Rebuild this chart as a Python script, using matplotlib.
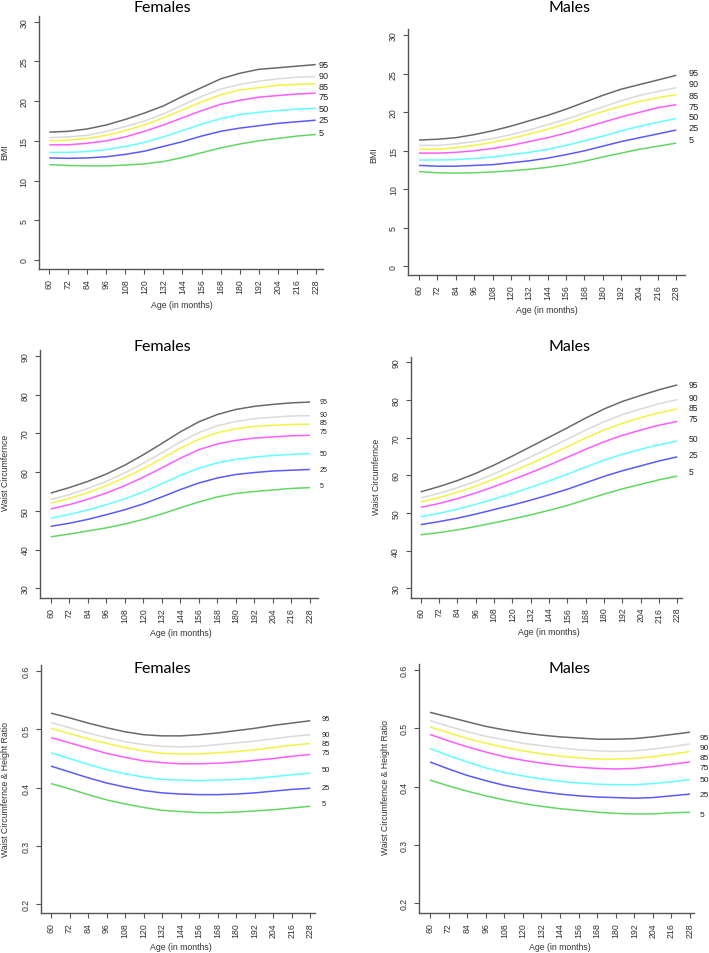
import matplotlib
matplotlib.use("Agg")
import matplotlib.pyplot as plt

# ---------------- data ----------------
AGES = [60, 72, 84, 96, 108, 120, 132, 144, 156, 168, 180, 192, 204, 216, 228]
PERCENTILES = ["95", "90", "85", "75", "50", "25", "5"]

F_BMI = [
    [16.1, 16.2, 16.5, 17.0, 17.7, 18.5, 19.4, 20.6, 21.7, 22.8, 23.5, 24.0, 24.2, 24.4, 24.6],
    [15.4, 15.5, 15.7, 16.2, 16.8, 17.5, 18.4, 19.5, 20.6, 21.5, 22.1, 22.5, 22.8, 23.0, 23.1],
    [15.0, 15.1, 15.3, 15.7, 16.3, 17.0, 17.9, 18.9, 19.9, 20.8, 21.4, 21.7, 22.0, 22.1, 22.2],
    [14.5, 14.5, 14.7, 15.0, 15.5, 16.2, 17.0, 17.9, 18.8, 19.6, 20.1, 20.5, 20.7, 20.9, 21.0],
    [13.55, 13.55, 13.65, 13.9, 14.3, 14.8, 15.5, 16.3, 17.1, 17.8, 18.3, 18.6, 18.8, 19.0, 19.1],
    [12.85, 12.8, 12.85, 13.0, 13.3, 13.7, 14.3, 14.9, 15.6, 16.2, 16.6, 16.9, 17.2, 17.4, 17.6],
    [12.0, 11.9, 11.85, 11.85, 11.95, 12.1, 12.4, 12.9, 13.5, 14.1, 14.6, 15.0, 15.3, 15.6, 15.8],
]
M_BMI = [
    [16.4, 16.5, 16.7, 17.1, 17.6, 18.2, 18.9, 19.6, 20.4, 21.3, 22.2, 23.0, 23.6, 24.2, 24.8],
    [15.7, 15.7, 15.9, 16.2, 16.6, 17.1, 17.7, 18.4, 19.1, 19.9, 20.7, 21.5, 22.2, 22.7, 23.2],
    [15.2, 15.2, 15.4, 15.7, 16.1, 16.6, 17.2, 17.8, 18.5, 19.3, 20.1, 20.8, 21.4, 21.9, 22.3],
    [14.7, 14.7, 14.8, 15.0, 15.3, 15.7, 16.2, 16.7, 17.3, 18.0, 18.7, 19.4, 20.0, 20.6, 21.0],
    [13.8, 13.8, 13.85, 14.0, 14.2, 14.5, 14.8, 15.2, 15.7, 16.3, 16.9, 17.6, 18.2, 18.7, 19.2],
    [13.1, 13.0, 13.0, 13.1, 13.2, 13.45, 13.7, 14.05, 14.5, 15.0, 15.6, 16.2, 16.7, 17.2, 17.7],
    [12.3, 12.15, 12.1, 12.15, 12.25, 12.4, 12.6, 12.85, 13.2, 13.65, 14.2, 14.7, 15.2, 15.6, 16.0],
]
F_WC = [
    [54.6, 56.0, 57.6, 59.5, 61.8, 64.5, 67.4, 70.4, 73.0, 74.9, 76.2, 77.0, 77.5, 77.9, 78.1],
    [52.9, 54.2, 55.8, 57.6, 59.8, 62.3, 65.0, 67.8, 70.2, 72.0, 73.1, 73.8, 74.2, 74.5, 74.6],
    [52.0, 53.2, 54.7, 56.5, 58.6, 60.9, 63.5, 66.2, 68.5, 70.2, 71.2, 71.8, 72.1, 72.3, 72.4],
    [50.5, 51.6, 53.0, 54.6, 56.5, 58.7, 61.1, 63.6, 65.8, 67.3, 68.2, 68.8, 69.1, 69.4, 69.5],
    [48.1, 49.1, 50.2, 51.6, 53.1, 54.9, 57.0, 59.2, 61.0, 62.4, 63.3, 63.9, 64.3, 64.6, 64.8],
    [46.0, 46.8, 47.8, 49.0, 50.3, 51.8, 53.6, 55.5, 57.2, 58.5, 59.4, 59.9, 60.3, 60.5, 60.7],
    [43.3, 44.0, 44.8, 45.6, 46.6, 47.8, 49.2, 50.8, 52.3, 53.6, 54.5, 55.0, 55.4, 55.8, 56.0],
]
M_WC = [
    [55.6, 57.0, 58.6, 60.5, 62.7, 65.1, 67.6, 70.1, 72.6, 75.2, 77.6, 79.6, 81.2, 82.7, 84.0],
    [54.0, 55.2, 56.7, 58.4, 60.4, 62.6, 64.9, 67.2, 69.6, 72.0, 74.2, 76.1, 77.6, 79.0, 80.1],
    [52.9, 54.1, 55.5, 57.1, 59.0, 61.0, 63.1, 65.3, 67.6, 69.9, 72.0, 73.8, 75.3, 76.6, 77.6],
    [51.5, 52.5, 53.8, 55.3, 57.0, 58.8, 60.7, 62.7, 64.8, 66.9, 68.9, 70.6, 72.0, 73.3, 74.3],
    [49.0, 49.9, 51.0, 52.3, 53.7, 55.2, 56.8, 58.5, 60.3, 62.2, 64.0, 65.6, 66.9, 68.1, 69.1],
    [46.9, 47.7, 48.6, 49.7, 50.9, 52.1, 53.4, 54.8, 56.3, 58.0, 59.7, 61.2, 62.5, 63.8, 64.9],
    [44.2, 44.8, 45.5, 46.4, 47.4, 48.4, 49.5, 50.7, 52.0, 53.5, 55.0, 56.4, 57.6, 58.8, 59.8],
]
F_WHTR = [
    [0.528, 0.520, 0.511, 0.503, 0.496, 0.491, 0.489, 0.489, 0.491, 0.494, 0.498, 0.502, 0.507, 0.511, 0.515],
    [0.512, 0.503, 0.494, 0.486, 0.479, 0.474, 0.471, 0.470, 0.471, 0.474, 0.477, 0.480, 0.484, 0.488, 0.491],
    [0.502, 0.493, 0.484, 0.476, 0.469, 0.463, 0.459, 0.458, 0.458, 0.460, 0.462, 0.465, 0.469, 0.473, 0.476],
    [0.486, 0.477, 0.468, 0.459, 0.452, 0.446, 0.443, 0.441, 0.441, 0.442, 0.444, 0.447, 0.450, 0.454, 0.457],
    [0.460, 0.450, 0.440, 0.431, 0.424, 0.418, 0.414, 0.413, 0.412, 0.413, 0.414, 0.416, 0.419, 0.422, 0.425],
    [0.437, 0.427, 0.417, 0.408, 0.401, 0.395, 0.391, 0.389, 0.388, 0.388, 0.389, 0.391, 0.394, 0.397, 0.399],
    [0.407, 0.398, 0.388, 0.379, 0.372, 0.366, 0.361, 0.359, 0.357, 0.357, 0.358, 0.360, 0.362, 0.365, 0.368],
]
M_WHTR = [
    [0.527, 0.519, 0.511, 0.503, 0.497, 0.492, 0.488, 0.485, 0.483, 0.481, 0.481, 0.482, 0.485, 0.489, 0.493],
    [0.513, 0.503, 0.494, 0.486, 0.480, 0.474, 0.470, 0.466, 0.463, 0.461, 0.460, 0.461, 0.464, 0.468, 0.473],
    [0.502, 0.492, 0.482, 0.474, 0.467, 0.461, 0.456, 0.452, 0.449, 0.447, 0.447, 0.448, 0.451, 0.455, 0.460],
    [0.489, 0.478, 0.468, 0.459, 0.451, 0.445, 0.440, 0.436, 0.433, 0.431, 0.430, 0.431, 0.434, 0.438, 0.442],
    [0.465, 0.453, 0.442, 0.432, 0.424, 0.418, 0.413, 0.409, 0.406, 0.404, 0.403, 0.403, 0.405, 0.408, 0.412],
    [0.442, 0.430, 0.419, 0.410, 0.402, 0.396, 0.391, 0.387, 0.384, 0.382, 0.381, 0.380, 0.381, 0.384, 0.387],
    [0.411, 0.401, 0.392, 0.384, 0.377, 0.371, 0.366, 0.362, 0.359, 0.356, 0.354, 0.353, 0.353, 0.355, 0.356],
]

X_TICKS = list(range(60, 229, 12))
BMI_TICKS = [0, 5, 10, 15, 20, 25, 30]
WC_TICKS = [30, 40, 50, 60, 70, 80, 90]
WHTR_TICKS = [0.2, 0.3, 0.4, 0.5, 0.6]

TITLES = ["Females", "Males"]
XLABEL = "Age (in months)"
YLABELS = ["BMI", "Waist Circumfernce", "Waist Circumfernce & Height Ratio"]

# ---------------- style ----------------
COLORS = ["#6a6a6a", "#dadada", "#f3f345", "#ff5cff", "#63ffff", "#5a5aff", "#62d862"]
AX_COLOR = "#555555"
TXT_COLOR = "#333333"
W, H, DPI = 709, 954, 100

fig = plt.figure(figsize=(W / DPI, H / DPI), dpi=DPI)
fig.patch.set_facecolor("white")


def fx(px):
    return px / W


def fy(py):
    return 1 - py / H


# panel geometry in pixels:
# box (L, R, T, B), x tick px (60, 228), y ref (vlo, pxlo, vhi, pxhi),
# title (cx, cy), ylabel (cx, cy), xlabel (cx, cy), pct labels (x, [ys]), pct fontsize
PANELS = [
    dict(data=F_BMI, yticks=BMI_TICKS, fmt="{:g}", ylab=0, title=0,
         box=(39, 323, 17, 270), xt=(49.3, 315.7), yr=(0, 261, 30, 22.7),
         tpos=(162, 8), ylpos=(5, 152), xlpos=(182, 305.5),
         lab=(318.3, [65.7, 76.7, 87, 97.3, 110, 120.7, 133.7]), lfs=6.6),
    dict(data=M_BMI, yticks=BMI_TICKS, fmt="{:g}", ylab=0, title=1,
         box=(408.3, 685, 30, 276), xt=(419, 676.3), yr=(0, 267.3, 30, 36.3),
         tpos=(570, 8), ylpos=(374, 155), xlpos=(547, 311),
         lab=(688.3, [73.3, 84.7, 96.3, 107, 117.7, 128.7, 140.3]), lfs=6.6),
    dict(data=F_WC, yticks=WC_TICKS, fmt="{:g}", ylab=1, title=0,
         box=(40.3, 318.3, 350.7, 599.3), xt=(50.7, 310), yr=(30, 589.3, 90, 357),
         tpos=(162, 347.5), ylpos=(6, 473), xlpos=(181, 634),
         lab=(320, [402.7, 415.7, 424, 432.3, 455, 470.7, 487]), lfs=5.0),
    dict(data=M_WC, yticks=WC_TICKS, fmt="{:g}", ylab=1, title=1,
         box=(410.7, 682.3, 358.3, 598.7), xt=(420.7, 677.3), yr=(30, 589.3, 90, 363.3),
         tpos=(570, 347.5), ylpos=(377, 477), xlpos=(549, 633),
         lab=(689, [385.7, 398.7, 409, 419.3, 439.3, 456, 473]), lfs=6.2),
    dict(data=F_WHTR, yticks=WHTR_TICKS, fmt="{:.1f}", ylab=2, title=0,
         box=(40.7, 315, 666, 914), xt=(51, 310.3), yr=(0.2, 905, 0.6, 672.3),
         tpos=(162, 669), ylpos=(6, 790), xlpos=(181, 948),
         lab=(321.7, [719.3, 736, 745, 753.3, 771, 788.3, 805]), lfs=5.4),
    dict(data=M_WHTR, yticks=WHTR_TICKS, fmt="{:.1f}", ylab=2, title=1,
         box=(418.7, 694, 665, 914), xt=(430, 690), yr=(0.2, 904.3, 0.6, 670.7),
         tpos=(570, 669), ylpos=(385, 788), xlpos=(560, 948),
         lab=(699.3, [738.3, 748.3, 758.3, 768.3, 781, 796, 815.7]), lfs=6.0),
]

TICK_FONT = "Liberation Sans"
TITLE_FONT = "Lato"

for p in PANELS:
    L, R, T, B = p["box"]
    ax = fig.add_axes([fx(L), fy(B), (R - L) / W, (B - T) / H])
    x60, x228 = p["xt"]
    ppm = (x228 - x60) / (228 - 60)
    ax.set_xlim(60 - (x60 - L) / ppm, 228 + (R - x228) / ppm)
    vlo, pxlo, vhi, pxhi = p["yr"]
    ppu = (pxlo - pxhi) / (vhi - vlo)
    ax.set_ylim(vlo - (B - pxlo) / ppu, vhi + (pxhi - T) / ppu)

    for vals, col in zip(p["data"], COLORS):
        ax.plot(AGES, vals, color=col, lw=1.1, solid_capstyle="butt",
                solid_joinstyle="round")

    for s in ("top", "right"):
        ax.spines[s].set_visible(False)
    for s in ("left", "bottom"):
        ax.spines[s].set_color(AX_COLOR)
        ax.spines[s].set_linewidth(1.0)

    ax.set_xticks(X_TICKS)
    ax.set_xticklabels([str(t) for t in X_TICKS], rotation=90,
                       fontsize=6.3, family=TICK_FONT, color=TXT_COLOR)
    ax.set_yticks(p["yticks"])
    ax.set_yticklabels([p["fmt"].format(t) for t in p["yticks"]], rotation=90,
                       va="center", fontsize=6.3, family=TICK_FONT, color=TXT_COLOR)
    ax.tick_params(axis="both", direction="out", length=3.5, width=0.8,
                   color=AX_COLOR)
    ax.tick_params(axis="x", pad=3)
    ax.tick_params(axis="y", pad=4)

    # title
    fig.text(fx(p["tpos"][0]), fy(p["tpos"][1]), TITLES[p["title"]],
             ha="center", va="center", fontsize=11.5, family=TITLE_FONT,
             color="black")
    # axis labels
    fig.text(fx(p["ylpos"][0]), fy(p["ylpos"][1]), YLABELS[p["ylab"]],
             ha="center", va="center", rotation=90, fontsize=6.3,
             family=TICK_FONT, color=TXT_COLOR)
    fig.text(fx(p["xlpos"][0]), fy(p["xlpos"][1]), XLABEL,
             ha="center", va="center", fontsize=6.3, family=TICK_FONT,
             color=TXT_COLOR)
    # percentile labels
    lx, lys = p["lab"]
    for name, ly in zip(PERCENTILES, lys):
        fig.text(fx(lx), fy(ly), name, ha="left", va="center",
                 fontsize=p["lfs"], family=TICK_FONT, color="#222222")

fig.savefig("out.png", dpi=DPI, facecolor="white")
